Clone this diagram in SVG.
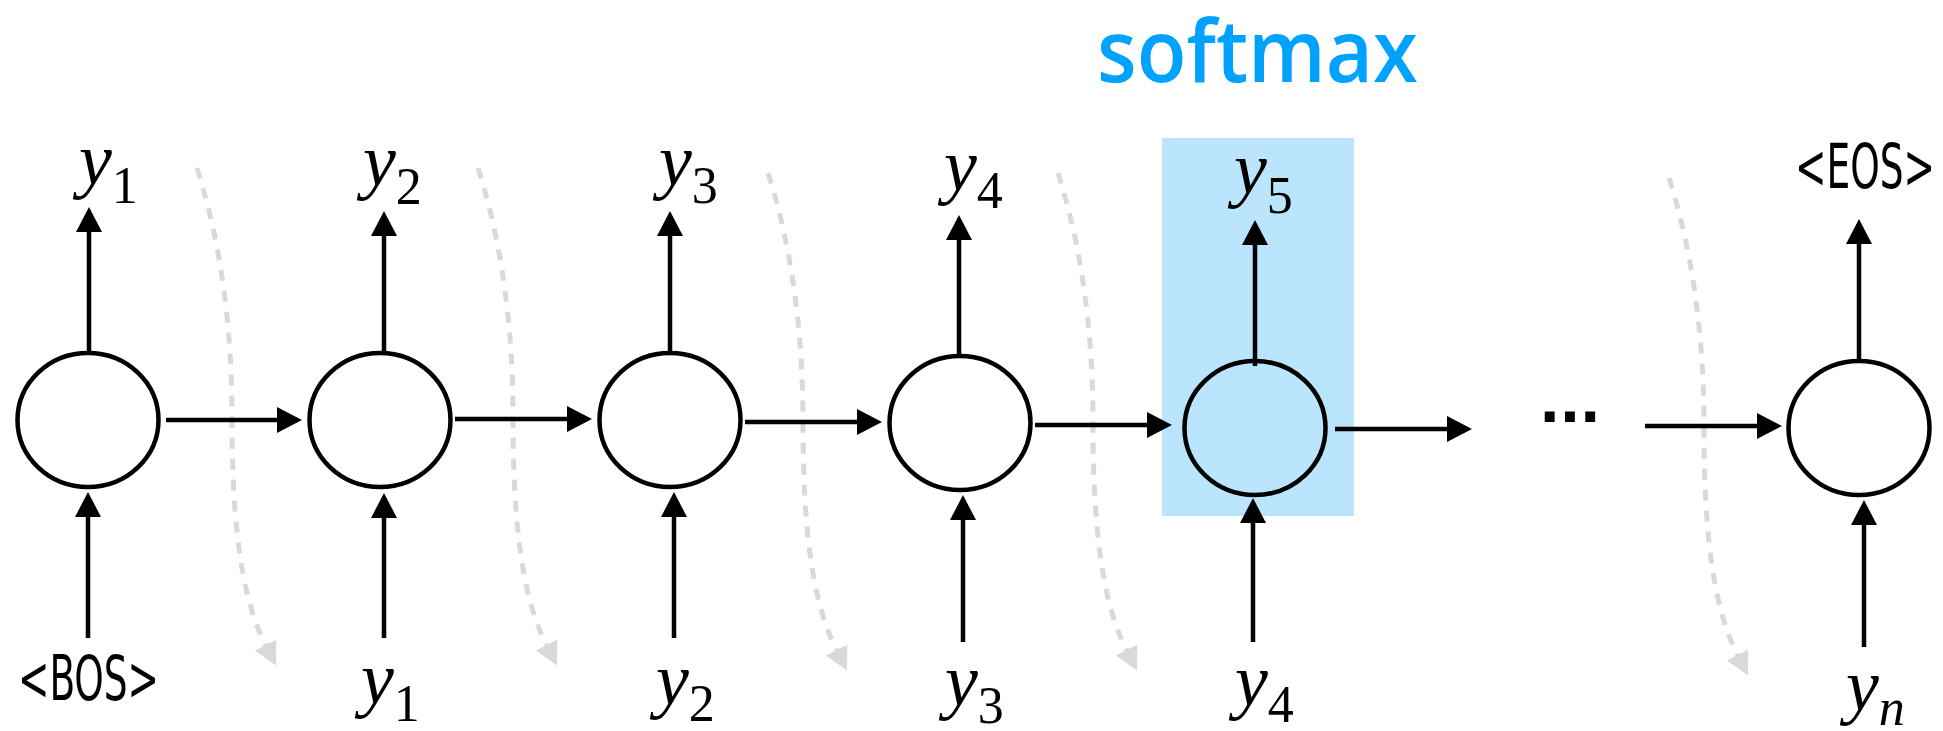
<svg xmlns="http://www.w3.org/2000/svg" width="1943" height="731" viewBox="0 0 1943 731">
<style>
.node{fill:#ffffff;stroke:#000;stroke-width:4.5}
.hl .node{fill:none}
.conn{stroke:#000;stroke-width:4.5;fill:none;marker-end:url(#ah)}
.flow{stroke:#d9d9d9;stroke-width:5;fill:none;stroke-dasharray:11 10;marker-end:url(#gh)}
.var{font-family:"Liberation Serif","Times New Roman",serif;font-style:italic;font-size:74px;fill:#000}
.sub{font-style:normal;font-size:52px}
.subi{font-style:italic;font-size:52px}
.tok{font-family:"Liberation Sans Narrow","DejaVu Sans Condensed","Liberation Sans",sans-serif;font-size:62px;fill:#000}
.title{font-family:"Open Sans","Noto Sans",sans-serif;font-weight:600;font-size:86px;fill:#00a2ff}
.dots{font-family:"Liberation Sans",sans-serif;font-weight:bold;font-size:70px;fill:#000}
</style>
<defs>
<marker id="ah" markerUnits="userSpaceOnUse" markerWidth="26" markerHeight="28" viewBox="0 -14 26 28" refX="0" refY="0" orient="auto" overflow="visible">
<path d="M-1,-13 L24,0 L-1,13 Z" fill="#000"/>
</marker>
<marker id="gh" markerUnits="userSpaceOnUse" markerWidth="26" markerHeight="28" viewBox="0 -14 26 28" refX="0" refY="0" orient="auto" overflow="visible">
<path d="M-1,-12 L22,0 L-1,12 Z" fill="#d9d9d9"/>
</marker>
</defs>
<rect width="1943" height="731" fill="#fff"/>
<text class="title" x="1097" y="82" textLength="321" lengthAdjust="spacingAndGlyphs">softmax</text>
<rect id="softmax-highlight" x="1162" y="138" width="192" height="378" fill="#bae5fc"/>

<g id="flows">
<path class="flow" d="M197,168 q35,110 35,250 c0,120 12,185 34,228"/>
<path class="flow" d="M478,168 q35,110 35,250 c0,120 12,185 34,228"/>
<path class="flow" d="M768,173 q35,110 35,250 c0,120 12,185 34,228"/>
<path class="flow" d="M1058,173 q35,110 35,250 c0,120 12,185 34,228"/>
<path class="flow" d="M1669,178 q35,110 35,250 c0,120 12,185 34,228"/>
</g>

<g id="connectors">
<line class="conn" x1="166" y1="420" x2="278" y2="420"/>
<line class="conn" x1="455" y1="419" x2="568" y2="419"/>
<line class="conn" x1="745" y1="422" x2="858" y2="422"/>
<line class="conn" x1="1035" y1="425" x2="1148" y2="425"/>
<line class="conn" x1="1335" y1="429" x2="1448" y2="429"/>
<line class="conn" x1="1645" y1="426" x2="1758" y2="426"/>
<line class="conn" x1="89" y1="353" x2="89" y2="231"/>
<line class="conn" x1="384" y1="357" x2="384" y2="235"/>
<line class="conn" x1="670" y1="357" x2="670" y2="235"/>
<line class="conn" x1="959" y1="360" x2="959" y2="239"/>
<line class="conn" x1="1255" y1="366" x2="1255" y2="244"/>
<line class="conn" x1="1859" y1="365" x2="1859" y2="243"/>
<line class="conn" x1="88" y1="638" x2="88" y2="516"/>
<line class="conn" x1="384" y1="638" x2="384" y2="517"/>
<line class="conn" x1="674" y1="638" x2="674" y2="516"/>
<line class="conn" x1="963" y1="642" x2="963" y2="519"/>
<line class="conn" x1="1253" y1="642" x2="1253" y2="522"/>
<line class="conn" x1="1864" y1="647" x2="1864" y2="524"/>
</g>

<g id="node1"><ellipse class="node" cx="88" cy="420" rx="70.5" ry="67"/></g>
<g id="node2"><ellipse class="node" cx="380" cy="420" rx="70.5" ry="67"/></g>
<g id="node3"><ellipse class="node" cx="670" cy="420" rx="70.5" ry="67"/></g>
<g id="node4"><ellipse class="node" cx="960" cy="423" rx="70.5" ry="67"/></g>
<g id="node5" class="hl"><ellipse class="node" cx="1255" cy="428" rx="70.5" ry="67"/></g>
<g id="node6"><ellipse class="node" cx="1859" cy="428" rx="70.5" ry="67"/></g>

<g id="dots"><text class="dots" x="1540" y="422" textLength="60" lengthAdjust="spacing">...</text></g>

<g id="labels">
<text class="var" x="79" y="184">y<tspan class="sub" dy="19">1</tspan></text>
<text class="var" x="363" y="185">y<tspan class="sub" dy="19">2</tspan></text>
<text class="var" x="659" y="185">y<tspan class="sub" dy="18">3</tspan></text>
<text class="var" x="944" y="190">y<tspan class="sub" dy="18">4</tspan></text>
<text class="var" x="1234" y="193">y<tspan class="sub" dy="20">5</tspan></text>
<text class="tok" x="1795" y="188" textLength="140" lengthAdjust="spacingAndGlyphs">&lt;EOS&gt;</text>
<text class="tok" x="18" y="700" textLength="141" lengthAdjust="spacingAndGlyphs">&lt;BOS&gt;</text>
<text class="var" x="361" y="703">y<tspan class="sub" dy="18">1</tspan></text>
<text class="var" x="656" y="704">y<tspan class="sub" dy="17">2</tspan></text>
<text class="var" x="945" y="705">y<tspan class="sub" dy="18">3</tspan></text>
<text class="var" x="1235" y="705">y<tspan class="sub" dy="17">4</tspan></text>
<text class="var" x="1846" y="710">y<tspan class="subi" dy="15">n</tspan></text>
</g>
</svg>
